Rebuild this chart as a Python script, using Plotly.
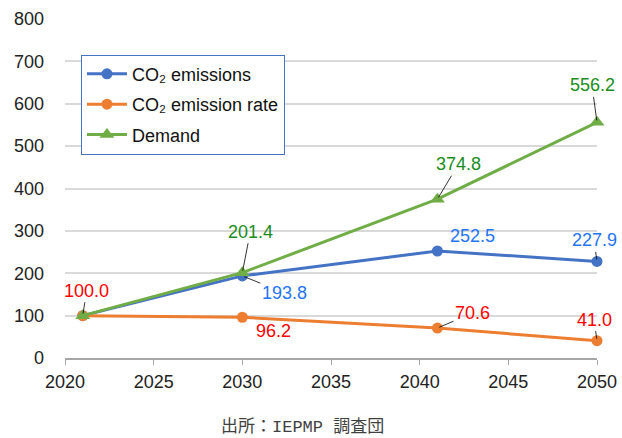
import plotly.graph_objects as go

years_emis = [2021, 2030, 2041, 2050]
co2_emissions = [100.0, 193.8, 252.5, 227.9]
co2_rate = [100.0, 96.2, 70.6, 41.0]
demand = [100.0, 201.4, 374.8, 556.2]
x_ticks = [2020, 2025, 2030, 2035, 2040, 2045, 2050]
y_ticks = [0, 100, 200, 300, 400, 500, 600, 700, 800]

BLUE = "#4472C4"
ORANGE = "#ED7D31"
GREEN = "#70AD47"
LBL_BLUE = "#1F74F5"
LBL_RED = "#FF0000"
LBL_GREEN = "#1B8C1B"
FONT = "Liberation Sans, Arial, sans-serif"

fig = go.Figure()
fig.add_trace(go.Scatter(x=years_emis, y=co2_emissions, mode="lines+markers",
                         name="CO\u2082 emissions", cliponaxis=False, legendgroup="a",
                         line=dict(color=BLUE, width=3),
                         marker=dict(symbol="circle", size=11, color=BLUE)))
fig.add_trace(go.Scatter(x=years_emis, y=co2_rate, mode="lines+markers",
                         name="CO\u2082 emission rate", cliponaxis=False, legendgroup="b",
                         line=dict(color=ORANGE, width=3),
                         marker=dict(symbol="circle", size=11, color=ORANGE)))
fig.add_trace(go.Scatter(x=years_emis, y=demand, mode="lines+markers",
                         name="Demand", cliponaxis=False, legendgroup="c",
                         line=dict(color=GREEN, width=3),
                         marker=dict(symbol="triangle-up", size=13, color=GREEN)))

# (series values, color, list of (ax, ay, leader?))
label_specs = [
    (co2_rate, LBL_RED, [(4, -25, True), (31, 14, False), (35, -15, True), (-3, -21, True)]),
    (co2_emissions, LBL_BLUE, [None, (42, 17, True), (35, -15, False), (-3, -21, True)]),
    (demand, LBL_GREEN, [None, (8, -41, True), (21, -35, True), (-5, -37, True)]),
]
for vals, col, specs in label_specs:
    for xv, yv, spec in zip(years_emis, vals, specs):
        if spec is None:
            continue
        ax, ay, leader = spec
        txt = f"{yv:.1f}"
        if leader:
            fig.add_annotation(x=xv, y=yv, text=txt, showarrow=True, arrowhead=0,
                               arrowwidth=0.8, arrowcolor="#000000", ax=ax, ay=ay,
                               standoff=2,
                               font=dict(family=FONT, size=18, color=col))
        else:
            fig.add_annotation(x=xv, y=yv, text=txt, showarrow=False,
                               xshift=ax, yshift=-ay,
                               font=dict(family=FONT, size=18, color=col))

fig.add_annotation(xref="paper", yref="paper", x=0.447, y=-0.205, yanchor="middle",
                   text="出所：IEPMP 調査団", showarrow=False,
                   font=dict(family="Liberation Mono, Noto Sans CJK JP", size=17,
                             color="#404040"))

fig.update_layout(
    width=622, height=438,
    margin=dict(l=65, r=25, t=19, b=80, autoexpand=False),
    paper_bgcolor="white", plot_bgcolor="white",
    font=dict(family=FONT, size=18, color="#222222"),
    showlegend=True,
    legend=dict(x=0.03, y=0.895, xanchor="left", yanchor="top",
                bordercolor=BLUE, borderwidth=1, bgcolor="white",
                font=dict(family=FONT, size=18, color="#111111"),
                itemwidth=40, tracegroupgap=4),
    xaxis=dict(range=[2020, 2050], tickvals=x_ticks, showgrid=False, automargin=False,
               showline=True, linecolor="#A6A6A6", linewidth=1.5,
               ticks="outside", ticklen=5, tickcolor="#A6A6A6", zeroline=False,
               ticklabelstandoff=2,
               tickfont=dict(family=FONT, size=18, color="#222222")),
    yaxis=dict(range=[0, 800], tickvals=y_ticks, showgrid=True, automargin=False,
               gridcolor="#D9D9D9", gridwidth=1.5, zeroline=False,
               showline=False, ticks="", ticklabelstandoff=20,
               tickfont=dict(family=FONT, size=18, color="#222222")),
)

fig.write_html("out.html", config={"displayModeBar": False},
               post_script="document.body.style.margin='0';document.body.style.overflow='hidden';")
